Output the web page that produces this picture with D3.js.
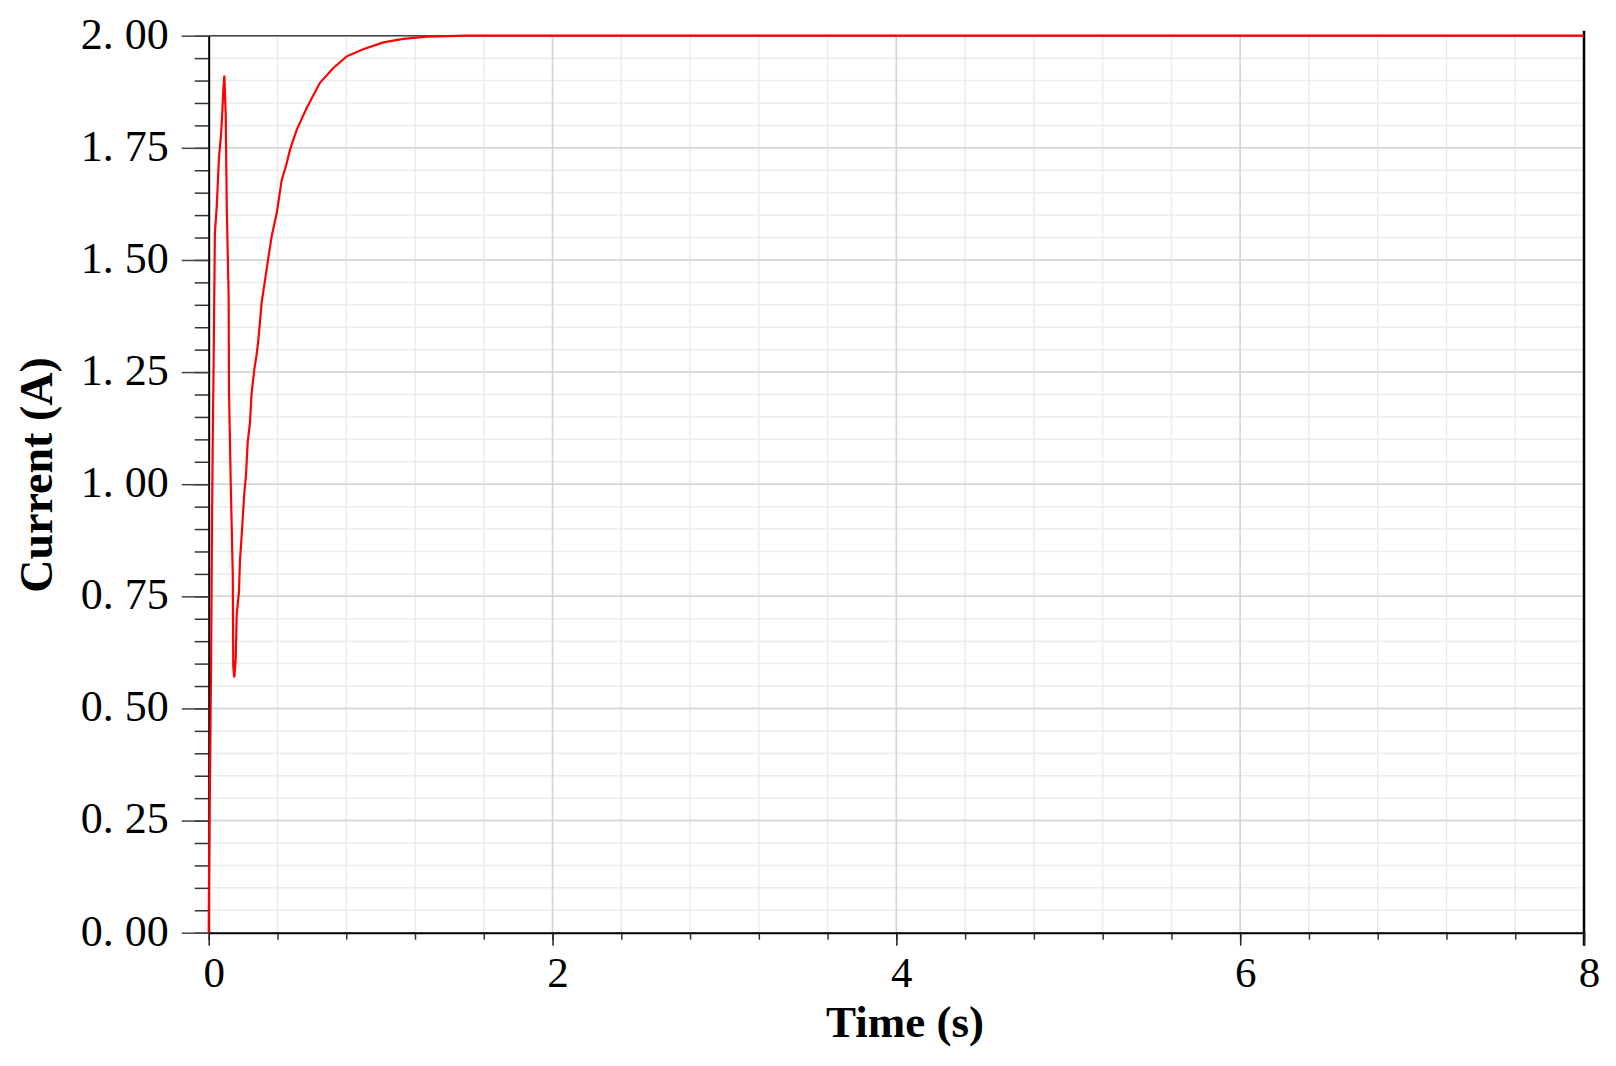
<!DOCTYPE html>
<html>
<head>
<meta charset="utf-8">
<script src="https://cdn.jsdelivr.net/npm/d3@7"></script>
<style>
  body { margin: 0; background: #fff; }
  svg text { font-family: "Liberation Serif", "Times New Roman", serif; }
</style>
</head>
<body>
<svg id="chart"></svg>
<script>
// current response
const time = [0, 0.002, 0.008, 0.014, 0.018, 0.023, 0.030, 0.036, 0.047, 0.060, 0.072, 0.079, 0.085, 0.091,
  0.099, 0.105, 0.116, 0.118, 0.128, 0.140, 0.143, 0.149,
  0.157, 0.163, 0.176, 0.182, 0.195, 0.207, 0.217, 0.227, 0.240, 0.250, 0.265, 0.279, 0.289, 0.308,
  0.328, 0.347, 0.366, 0.396, 0.425, 0.450, 0.473, 0.512, 0.570, 0.647, 0.725, 0.803, 0.899,
  1.016, 1.132, 1.268, 1.50, 8];
const current = [0, 0.12, 0.36, 0.60, 0.84, 1.08, 1.32, 1.56, 1.62, 1.73, 1.78, 1.83, 1.88, 1.911,
  1.824, 1.62, 1.416, 1.21, 1.005, 0.798, 0.593, 0.569,
  0.61, 0.71, 0.76, 0.83, 0.905, 0.98, 1.02, 1.095, 1.137, 1.204, 1.255, 1.29, 1.322, 1.405,
  1.456, 1.505, 1.552, 1.605, 1.679, 1.71, 1.746, 1.790, 1.839, 1.895, 1.928, 1.954, 1.970,
  1.985, 1.993, 1.998, 2.0, 2.0];

const xTicks = [0, 2, 4, 6, 8];
const xMinorTicks = d3.range(0, 8.0001, 0.4);
const yTicks = [0, 0.25, 0.5, 0.75, 1.0, 1.25, 1.5, 1.75, 2.0];
const yMinorTicks = d3.range(0, 2.0001, 0.05);

const width = 1616;
const height = 1066;
const plotLeft = 208.7, plotRight = 1584, plotTop = 35.7, plotBottom = 932.7;

const svg = d3.select("#chart")
  .attr("width", width)
  .attr("height", height);

const x = d3.scaleLinear().domain([0, 8]).range([plotLeft, plotRight]);
const y = d3.scaleLinear().domain([0, 2]).range([plotBottom, plotTop]);

// grid, light minor then darker major
const grid = svg.append("g");
grid.selectAll(".vminor").data(xMinorTicks).enter().append("line")
  .attr("x1", d => x(d)).attr("x2", d => x(d))
  .attr("y1", plotTop).attr("y2", plotBottom)
  .attr("stroke", "#ebebeb").attr("stroke-width", 1.5);
grid.selectAll(".hminor").data(yMinorTicks).enter().append("line")
  .attr("x1", plotLeft).attr("x2", plotRight)
  .attr("y1", d => y(d)).attr("y2", d => y(d))
  .attr("stroke", "#ebebeb").attr("stroke-width", 1.5);
grid.selectAll(".vmajor").data(xTicks).enter().append("line")
  .attr("x1", d => x(d)).attr("x2", d => x(d))
  .attr("y1", plotTop).attr("y2", plotBottom)
  .attr("stroke", "#d4d4d4").attr("stroke-width", 1.5);
grid.selectAll(".hmajor").data(yTicks).enter().append("line")
  .attr("x1", plotLeft).attr("x2", plotRight)
  .attr("y1", d => y(d)).attr("y2", d => y(d))
  .attr("stroke", "#d4d4d4").attr("stroke-width", 1.5);

// top and right border
svg.append("line").attr("x1", plotLeft).attr("x2", plotRight).attr("y1", plotTop).attr("y2", plotTop)
  .attr("stroke", "#444").attr("stroke-width", 1.5);
svg.append("line").attr("x1", plotRight).attr("x2", plotRight).attr("y1", plotTop - 5).attr("y2", plotBottom + 13)
  .attr("stroke", "#000").attr("stroke-width", 2.5);

// minor ticks
svg.append("g")
  .attr("transform", `translate(0, ${plotBottom})`)
  .call(d3.axisBottom(x).tickValues(xMinorTicks).tickSize(7).tickFormat(""))
  .call(g => g.select(".domain").remove())
  .selectAll("line").attr("stroke", "#333").attr("stroke-width", 1.5);
svg.append("g")
  .attr("transform", `translate(${plotLeft}, 0)`)
  .call(d3.axisLeft(y).tickValues(yMinorTicks).tickSize(14).tickFormat(""))
  .call(g => g.select(".domain").remove())
  .selectAll("line").attr("stroke", "#333").attr("stroke-width", 1.5);

// major axes
const xAxis = svg.append("g")
  .attr("transform", `translate(0, ${plotBottom})`)
  .call(d3.axisBottom(x).tickValues(xTicks).tickSize(13).tickSizeOuter(0).tickFormat(d3.format("d")));
xAxis.select(".domain").attr("stroke", "#000").attr("stroke-width", 2);
xAxis.selectAll("line").attr("stroke", "#222").attr("stroke-width", 1.5);
xAxis.selectAll("text")
  .attr("y", 54).attr("dy", null).attr("x", 5)
  .attr("fill", "#000").attr("font-size", 43)
  .style("font-family", "'Liberation Serif', serif");

const yAxis = svg.append("g")
  .attr("transform", `translate(${plotLeft}, 0)`)
  .call(d3.axisLeft(y).tickValues(yTicks).tickSize(27).tickPadding(13).tickSizeOuter(0)
    .tickFormat(d => d3.format(".2f")(d).replace(".", ". ")));
yAxis.select(".domain").attr("stroke", "#000").attr("stroke-width", 2);
yAxis.selectAll("line").attr("stroke", "#444").attr("stroke-width", 1.5);
yAxis.selectAll("text")
  .attr("fill", "#000").attr("font-size", 44).attr("dy", "0.28em")
  .style("white-space", "pre")
  .style("font-family", "'Liberation Serif', serif");

// the curve
const line = d3.line()
  .x((d, i) => x(time[i]))
  .y(d => y(d));
svg.append("path")
  .datum(current)
  .attr("fill", "none")
  .attr("stroke", "#ff0000")
  .attr("stroke-width", 2.2)
  .attr("d", line);

// axis titles
svg.append("text")
  .attr("x", 905).attr("y", 1037)
  .attr("text-anchor", "middle")
  .attr("font-size", 45).attr("font-weight", "bold")
  .text("Time (s)");
svg.append("text")
  .attr("transform", "translate(52, 475) rotate(-90)")
  .attr("text-anchor", "middle")
  .attr("font-size", 46).attr("font-weight", "bold")
  .text("Current (A)");
</script>
</body>
</html>
